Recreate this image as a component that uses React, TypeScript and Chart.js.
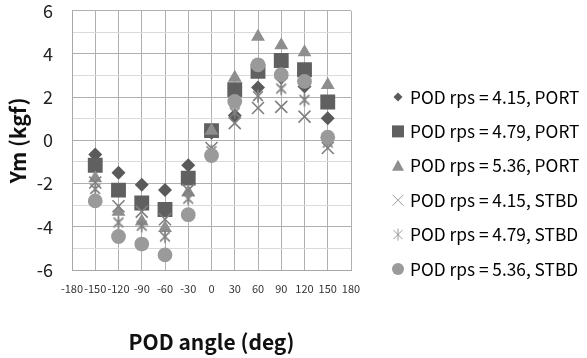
import React, { useEffect, useRef } from "react";
import { Chart, registerables } from "chart.js";

Chart.register(...registerables);

const angles = [-150, -120, -90, -60, -30, 0, 30, 60, 90, 120, 150];
const port415 = [-0.65, -1.5, -2.05, -2.3, -1.15, 0.35, 1.15, 2.45, 2.9, 2.5, 1.03];
const port479 = [-1.15, -2.3, -2.9, -3.2, -1.75, 0.45, 2.35, 3.2, 3.7, 3.27, 1.78];
const port536 = [-1.75, -3.3, -3.75, -4.05, -2.4, 0.45, 2.9, 4.8, 4.4, 4.08, 2.57];
const stbd415 = [-1.95, -3.05, -3.3, -3.65, -2.3, -0.35, 0.8, 1.5, 1.55, 1.1, -0.35];
const stbd479 = [-2.25, -3.8, -3.95, -4.45, -2.7, -0.5, 1.3, 2.05, 2.4, 1.88, -0.1];
const stbd536 = [-2.8, -4.45, -4.8, -5.3, -3.44, -0.7, 1.8, 3.5, 3.04, 2.73, 0.15];

const seriesLabels = [
  "POD rps = 4.15, PORT",
  "POD rps = 4.79, PORT",
  "POD rps = 5.36, PORT",
  "POD rps = 4.15, STBD",
  "POD rps = 4.79, STBD",
  "POD rps = 5.36, STBD",
];
const seriesValues = [port415, port479, port536, stbd415, stbd479, stbd536];

const xTitle = "POD angle (deg)";
const yTitle = "Ym (kgf)";

const FONT = "'Noto Sans CJK KR', 'Noto Sans', sans-serif";
const C_DARK = "#5a5a5a";
const C_SQ = "#606060";
const C_TRI = "#8e8e8e";
const C_X = "#808080";
const C_CIRC = "#9a9a9a";

function makeAsterisk(size: number, color: string, lw: number): HTMLCanvasElement {
  const c = document.createElement("canvas");
  c.width = size;
  c.height = size;
  const g = c.getContext("2d")!;
  g.strokeStyle = color;
  g.lineWidth = lw;
  const m = size / 2;
  const a = size / 2 - 1.5;
  g.beginPath();
  g.moveTo(m - a * 0.75, m - a * 0.75);
  g.lineTo(m + a * 0.75, m + a * 0.75);
  g.moveTo(m + a * 0.75, m - a * 0.75);
  g.lineTo(m - a * 0.75, m + a * 0.75);
  g.moveTo(m, m - a);
  g.lineTo(m, m + a);
  g.stroke();
  return c;
}

function drawLegendMarker(ctx: CanvasRenderingContext2D, i: number, x: number, y: number) {
  ctx.save();
  switch (i) {
    case 0: {
      ctx.fillStyle = C_DARK;
      const r = 4.5;
      ctx.beginPath();
      ctx.moveTo(x, y - r);
      ctx.lineTo(x + r, y);
      ctx.lineTo(x, y + r);
      ctx.lineTo(x - r, y);
      ctx.closePath();
      ctx.fill();
      break;
    }
    case 1:
      ctx.fillStyle = C_SQ;
      ctx.fillRect(x - 6, y - 6, 12, 12);
      break;
    case 2:
      ctx.fillStyle = C_TRI;
      ctx.beginPath();
      ctx.moveTo(x, y - 6);
      ctx.lineTo(x + 6, y + 5);
      ctx.lineTo(x - 6, y + 5);
      ctx.closePath();
      ctx.fill();
      break;
    case 3:
      ctx.strokeStyle = "#9a9a9a";
      ctx.lineWidth = 1;
      ctx.beginPath();
      ctx.moveTo(x - 5.5, y - 5.5);
      ctx.lineTo(x + 5.5, y + 5.5);
      ctx.moveTo(x + 5.5, y - 5.5);
      ctx.lineTo(x - 5.5, y + 5.5);
      ctx.stroke();
      break;
    case 4:
      ctx.strokeStyle = "#9a9a9a";
      ctx.lineWidth = 1;
      ctx.beginPath();
      ctx.moveTo(x - 4.5, y - 4.5);
      ctx.lineTo(x + 4.5, y + 4.5);
      ctx.moveTo(x + 4.5, y - 4.5);
      ctx.lineTo(x - 4.5, y + 4.5);
      ctx.moveTo(x, y - 6);
      ctx.lineTo(x, y + 6);
      ctx.stroke();
      break;
    case 5:
      ctx.fillStyle = C_CIRC;
      ctx.beginPath();
      ctx.arc(x, y, 6, 0, Math.PI * 2);
      ctx.fill();
      break;
  }
  ctx.restore();
}

const legendPlugin = {
  id: "sideLegend",
  afterDraw(chart: any) {
    const ctx: CanvasRenderingContext2D = chart.ctx;
    const markerX = 398;
    const textX = 410;
    const top = 97;
    const gap = 34.4;
    ctx.save();
    ctx.font = `17.3px ${FONT}`;
    ctx.fillStyle = "#000";
    ctx.textBaseline = "middle";
    ctx.textAlign = "left";
    seriesLabels.forEach((lab, i) => {
      const y = top + i * gap;
      drawLegendMarker(ctx, i, markerX, y);
      ctx.fillText(lab, textX, y);
    });
    ctx.restore();
  },
};

export default function App() {
  const ref = useRef<HTMLCanvasElement | null>(null);

  useEffect(() => {
    if (!ref.current) return;
    const asterisk = makeAsterisk(16, C_X, 1.6);
    const styles: any[] = ["rectRot", "rect", "triangle", "crossRot", asterisk, "circle"];
    const radii = [7, 10.5, 8, 8.5, 8, 7.4];
    const colors = [C_DARK, C_SQ, C_TRI, C_X, C_X, C_CIRC];
    const datasets = seriesValues.map((vals, i) => ({
      label: seriesLabels[i],
      data: angles.map((a, k) => ({ x: a, y: vals[k] })),
      pointStyle: styles[i],
      pointRadius: radii[i],
      pointHoverRadius: radii[i],
      backgroundColor: colors[i],
      borderColor: colors[i],
      pointBorderWidth: i === 3 ? 1.6 : 0,
      borderWidth: i === 3 ? 1.6 : 0,
      showLine: false,
      order: 5 - i,
    }));

    const chart = new Chart(ref.current, {
      type: "scatter",
      data: { datasets },
      options: {
        animation: false,
        responsive: false,
        devicePixelRatio: 1,
        layout: { padding: { left: 0, right: 236, top: 0, bottom: 0 } },
        plugins: {
          legend: { display: false },
          tooltip: { enabled: false },
        },
        scales: {
          x: {
            type: "linear",
            min: -180,
            max: 180,
            afterFit: (s: any) => {
              s.height = 88;
            },
            ticks: {
              stepSize: 30,
              padding: 12,
              color: "#333",
              font: { family: FONT, size: 11 },
              maxRotation: 0,
              autoSkip: false,
              callback: (v: any) => String(v),
            },
            grid: { color: "#b0b0b0", lineWidth: 1, drawTicks: false },
            border: { color: "#a8a8a8" },
            title: {
              display: true,
              text: xTitle,
              color: "#111",
              font: { family: FONT, size: 21, weight: "bold" },
              padding: { top: 0, bottom: 3 },
            },
          },
          y: {
            type: "linear",
            min: -6,
            max: 6,
            afterFit: (s: any) => {
              s.width = 72;
            },
            ticks: {
              stepSize: 1,
              padding: 0,
              color: "#222",
              font: { family: FONT, size: 18 },
              autoSkip: false,
              callback: (v: any) => (Number(v) % 2 === 0 ? String(v) : ""),
            },
            grid: {
              color: (c: any) =>
                c.tick && Number(c.tick.value) % 2 === 0 ? "#b0b0b0" : "#dadada",
              lineWidth: 1,
              drawTicks: true,
              tickLength: 19,
              tickColor: "rgba(0,0,0,0)",
            },
            border: { color: "#a8a8a8" },
            title: {
              display: true,
              text: yTitle,
              color: "#111",
              font: { family: FONT, size: 21, weight: "bold" },
              padding: { top: 5, bottom: 0 },
            },
          },
        },
      },
      plugins: [legendPlugin],
    });
    return () => chart.destroy();
  }, []);

  return (
    <div style={{ position: "fixed", left: 0, top: 0, width: 587, height: 358, background: "#fff" }}>
      <canvas ref={ref} width={587} height={358} style={{ width: 587, height: 358, display: "block" }} />
    </div>
  );
}
